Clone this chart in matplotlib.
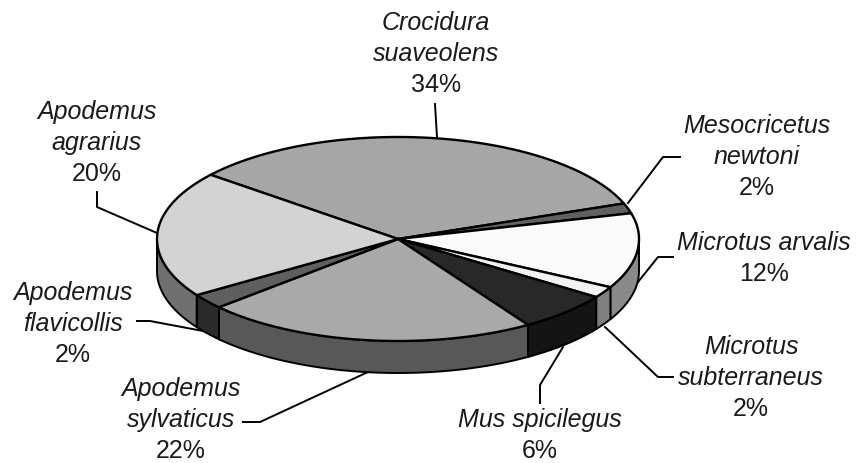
import matplotlib
matplotlib.use('Agg')
import matplotlib.pyplot as plt
import numpy as np

plt.rcParams['font.family'] = ['Liberation Sans', 'DejaVu Sans']

especies = ['Crocidura\nsuaveolens', 'Mesocricetus\nnewtoni', 'Microtus arvalis',
            'Microtus\nsubterraneus', 'Mus spicilegus', 'Apodemus\nsylvaticus',
            'Apodemus\nflavicollis', 'Apodemus\nagrarius']
valores = [33.5, 1.6, 11.9, 1.8, 6.3, 22.4, 2.4, 20.1]
cor_topo = ['#a6a6a6', '#606060', '#fafafa', '#f2f2f2', '#282828', '#a9a9a9', '#5f5f5f', '#d3d3d3']
cor_lado = ['#707070', '#505050', '#8a8a8a', '#808080', '#141414', '#585858', '#2a2a2a', '#707070']

# posicao da primeira linha de texto e linha de chamada, em pixels da figura
pos_texto = [(436, 23), (757, 126), (764, 243), (751, 347), (540, 420), (181, 389), (73, 293), (97, 112)]
chamadas = [[(435, 104), (437, 137)],
            [(628, 203), (663, 157), (680, 157)],
            [(638, 282), (658, 257), (673, 257)],
            [(605, 327), (658, 377), (673, 377)],
            [(563, 347), (540, 385), (540, 403)],
            [(368, 372), (260, 422), (243, 422)],
            [(203, 331), (150, 321), (137, 321)],
            [(157, 233), (97, 207), (97, 192)]]

cx, cy, rx, ry = 398, 239, 241, 102
prof = 32
inicio = 141
passo = 31

fig = plt.figure(figsize=(8.56, 4.63), dpi=100)
ax = fig.add_axes([0, 0, 1, 1])
ax.set_xlim(0, 856)
ax.set_ylim(463, 0)
ax.axis('off')


def arco(a1, a2):
    t = np.radians(np.linspace(a1, a2, 120))
    return cx + rx * np.cos(t), cy - ry * np.sin(t)


fim = inicio - np.cumsum(valores) * 3.6
com = np.r_[inicio, fim[:-1]]

# lateral: so a parte de baixo do disco aparece
for a1, a2, c in zip(com, fim, cor_lado):
    for k in [0, -360]:
        b1 = min(a1 + k, 0)
        b2 = max(a2 + k, -180)
        if b1 > b2:
            x, y = arco(b1, b2)
            ax.fill(np.r_[x, x[::-1]], np.r_[y, y[::-1] + prof], fc=c, ec='black', lw=1.4, zorder=2)

# topo
for a1, a2, c in zip(com, fim, cor_topo):
    x, y = arco(a1, a2)
    ax.fill(np.r_[cx, x], np.r_[cy, y], fc=c, ec='black', lw=1.7, joinstyle='round', zorder=3)

for nome, v, p, ch in zip(especies, valores, pos_texto, chamadas):
    linhas = nome.split('\n')
    for i, s in enumerate(linhas):
        ax.text(p[0], p[1] + i * passo, s, style='italic', ha='center', va='center', fontsize=18, color='#1a1a1a')
    ax.text(p[0], p[1] + len(linhas) * passo, '{0:.0f}%'.format(v), ha='center', va='center', fontsize=18, color='#1a1a1a')
    ax.plot([q[0] for q in ch], [q[1] for q in ch], color='black', lw=1.4, zorder=1)

plt.savefig('out.png', dpi=100)
